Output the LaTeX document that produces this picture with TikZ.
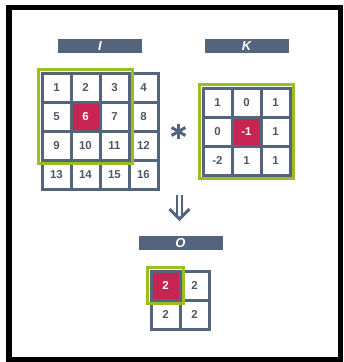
\documentclass[tikz,border=0pt]{standalone}
\usepackage{fontspec}
\setmainfont{Liberation Sans}
\usetikzlibrary{fit,calc}
\definecolor{slate}{RGB}{83,100,124}
\definecolor{numc}{RGB}{77,88,106}
\definecolor{hired}{RGB}{200,36,82}
\definecolor{lime}{RGB}{154,190,32}
\begin{document}
\begin{tikzpicture}[x=1pt,y=-1pt,
  cell/.style={draw=slate,line width=3pt,fill=white,minimum size=29pt,inner sep=0pt,
    text=numc,font=\bfseries\fontsize{11.5}{11.5}\selectfont},
  hot/.style={fill=hired,text=white},
  bar/.style={fill=slate,minimum width=84pt,minimum height=14pt,inner sep=0pt,
    text=white,font=\bfseries\itshape\fontsize{13}{13}\selectfont},
  greenbox/.style={draw=lime,line width=3pt,inner sep=2pt},
  sym/.style={draw=slate,line width=3pt}]
\useasboundingbox (0,0) rectangle (344,362);
\fill[white] (0,0) rectangle (344,362);
\draw[black,line width=5.5pt] (9,7.5) rectangle (340.5,359.5);
% labels
\node[bar] (barI) at (100,46) {I};
\node[bar] (barK) at (246.5,46) {K};
\node[bar] (barO) at (180.5,243) {O};
% I grid
\foreach \v [count=\n from 0] in {1,2,3,4,5,6,7,8,9,10,11,12,13,14,15,16}{
  \pgfmathtruncatemacro{\c}{mod(\n,4)}
  \pgfmathtruncatemacro{\r}{div(\n,4)}
  \ifnum\n=5
    \node[cell,hot] (i\r\c) at (56.5+29*\c,87.5+29*\r) {\v};
  \else
    \node[cell] (i\r\c) at (56.5+29*\c,87.5+29*\r) {\v};
  \fi
}
% K grid
\foreach \v [count=\n from 0] in {1,0,1,0,-1,1,-2,1,1}{
  \pgfmathtruncatemacro{\c}{mod(\n,3)}
  \pgfmathtruncatemacro{\r}{div(\n,3)}
  \ifnum\n=4
    \node[cell,hot] (k\r\c) at (217.5+29*\c,102.5+29*\r) {\v};
  \else
    \node[cell] (k\r\c) at (217.5+29*\c,102.5+29*\r) {\v};
  \fi
}
% O grid
\foreach \v [count=\n from 0] in {2,2,2,2}{
  \pgfmathtruncatemacro{\c}{mod(\n,2)}
  \pgfmathtruncatemacro{\r}{div(\n,2)}
  \ifnum\n=0
    \node[cell,hot] (o\r\c) at (165.5+29*\c,285.5+29*\r) {\v};
  \else
    \node[cell] (o\r\c) at (165.5+29*\c,285.5+29*\r) {\v};
  \fi
}
% green boxes
\node[greenbox,fit=(i00)(i22)] (gI) {};
\node[greenbox,fit=(k00)(k22)] (gK) {};
\node[greenbox,fit=(o00)] (gO) {};
% asterisk
\coordinate (star) at (178.5,131.5);
\draw[sym] ($(star)+(0,-7.5)$) -- ($(star)+(0,7.5)$);
\path (star) ++(30:8) coordinate (s1) (star) ++(210:8) coordinate (s2)
      (star) ++(150:8) coordinate (s3) (star) ++(330:8) coordinate (s4);
\draw[sym] (s1) -- (s2);
\draw[sym] (s3) -- (s4);
% double arrow
\coordinate (aTop) at (179.5,194.5);
\coordinate (aTip) at (179.5,220);
\draw[slate,line width=2.2pt] ($(aTop)+(-2.6,0)$) -- ($(aTip)+(-2.6,-5)$);
\draw[slate,line width=2.2pt] ($(aTop)+(2.6,0)$) -- ($(aTip)+(2.6,-5)$);
\draw[slate,line width=3pt,line join=miter] ($(aTip)+(-10,-11)$) -- ($(aTip)+(0,-1)$) -- ($(aTip)+(10,-11)$);
\end{tikzpicture}
\end{document}
